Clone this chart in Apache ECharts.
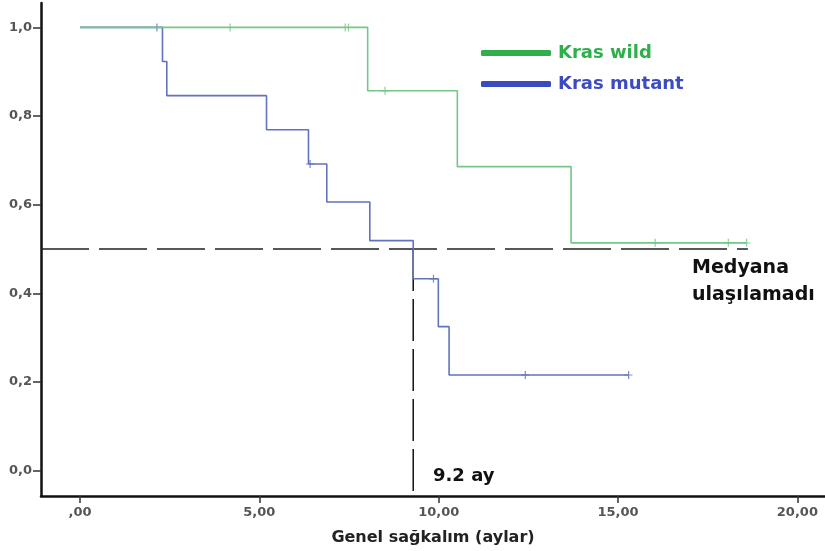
<!DOCTYPE html>
<html>
<head>
<meta charset="utf-8">
<script src="https://cdn.jsdelivr.net/npm/echarts@6/dist/echarts.min.js"></script>
<style>
html, body { margin: 0; padding: 0; background: #fff; }
#chart { width: 825px; height: 551px; }
</style>
</head>
<body>
<div id="chart"></div>
<script>
// Kaplan-Meier data (months, survival)
var wildTimes = [8.02, 10.52, 13.69];
var wildSurv = [0.857, 0.686, 0.514];
var wildCensor = [4.18, 7.39, 7.48, 8.50, 16.03, 18.07, 18.58];

var mutTimes = [2.30, 2.42, 5.20, 6.37, 6.88, 8.08, 9.29, 9.99, 10.29];
var mutSurv = [0.923, 0.846, 0.769, 0.692, 0.606, 0.519, 0.433, 0.325, 0.216];
var mutCensor = [2.14, 6.41, 9.85, 12.41, 15.29];

var medianSurv = 0.5;
var medianTime = 9.29;
var medianLineEnd = 18.62;

var xTicks = [0, 5, 10, 15, 20];
var xTickLabels = [',00', '5,00', '10,00', '15,00', '20,00'];
var yTicks = [0, 0.2, 0.4, 0.6, 0.8, 1.0];
var yTickLabels = ['0,0', '0,2', '0,4', '0,6', '0,8', '1,0'];

var xMin = -1.087, xMax = 20.77;
var yMin = -0.057, yMax = 1.055;

function survAt(times, surv, t) {
	var s = 1;
	for (var i = 0; i < times.length; i++) {
		if (times[i] <= t) s = surv[i];
	}
	return s;
}

function kmLine(times, surv, censor) {
	var end = Math.max.apply(null, censor.concat(times));
	var d = [[0, 1]];
	for (var i = 0; i < times.length; i++) {
		d.push([times[i], surv[i]]);
	}
	d.push([end, survAt(times, surv, end)]);
	return d;
}

function censorPoints(times, surv, censor) {
	return censor.map(function (t) {
		return [t, survAt(times, surv, t)];
	});
}

function tickLabel(ticks, labels) {
	return function (v) {
		for (var i = 0; i < ticks.length; i++) {
			if (Math.abs(ticks[i] - v) < 1e-6) return labels[i];
		}
		return '';
	};
}

var green = '#74c787', blue = '#6272bd';
var plusMark = 'path://M4,0h1.4v9h-1.4zM0,4h9v1.2h-9z';

var chart = echarts.init(document.getElementById('chart'));
chart.setOption({
	animation: false,
	grid: { left: 41, right: 0, top: 3, bottom: 55 },
	legend: {
		orient: 'vertical',
		left: 476,
		top: 39,
		itemGap: 13,
		itemWidth: 70,
		itemHeight: 6,
		icon: 'roundRect',
		selectedMode: false,
		textStyle: { fontWeight: 'bold', fontSize: 18, fontFamily: 'DejaVu Sans', padding: [0, 0, 0, 2] },
		data: [
			{ name: 'Kras wild', itemStyle: { color: '#2eaf4c' }, textStyle: { color: '#2eaf4c' } },
			{ name: 'Kras mutant', itemStyle: { color: '#3c4cc0' }, textStyle: { color: '#3c4cc0' } }
		]
	},
	xAxis: {
		type: 'value',
		min: xMin,
		max: xMax,
		name: 'Genel sağkalım (aylar)',
		nameLocation: 'middle',
		nameGap: 34,
		nameTextStyle: { fontWeight: 'bold', fontSize: 16, color: '#222', fontFamily: 'DejaVu Sans' },
		splitLine: { show: false },
		axisLine: { onZero: false, lineStyle: { color: '#111', width: 2.5 } },
		axisTick: { length: 7, customValues: xTicks, lineStyle: { color: '#333', width: 1.5 } },
		axisLabel: {
			customValues: xTicks, margin: 10, fontSize: 13, color: '#555', fontWeight: 'bold',
			fontFamily: 'DejaVu Sans', formatter: tickLabel(xTicks, xTickLabels)
		}
	},
	yAxis: {
		type: 'value',
		min: yMin,
		max: yMax,
		splitLine: { show: false },
		axisLine: { onZero: false, lineStyle: { color: '#111', width: 2.5 } },
		axisTick: { length: 8, customValues: yTicks, lineStyle: { color: '#333', width: 1.5 } },
		axisLabel: {
			customValues: yTicks, margin: 9, fontSize: 13, color: '#555', fontWeight: 'bold',
			fontFamily: 'DejaVu Sans', formatter: tickLabel(yTicks, yTickLabels)
		}
	},
	series: [
		{
			name: 'median-h', type: 'line', silent: true, symbol: 'none',
			lineStyle: { color: '#222', width: 1.5, type: [48, 10] },
			data: [[xMin, medianSurv], [medianLineEnd, medianSurv]]
		},
		{
			name: 'median-v', type: 'line', silent: true, symbol: 'none',
			lineStyle: { color: '#111', width: 1.5, type: [42, 8] },
			data: [[medianTime, medianSurv], [medianTime, yMin]]
		},
		{
			name: 'Kras mutant', type: 'line', step: 'end', symbol: 'none',
			lineStyle: { color: blue, width: 1.6 }, itemStyle: { color: blue },
			data: kmLine(mutTimes, mutSurv, mutCensor)
		},
		{
			name: 'mutant-censored', type: 'scatter', symbol: plusMark, symbolSize: [8, 8],
			itemStyle: { color: blue },
			data: censorPoints(mutTimes, mutSurv, mutCensor)
		},
		{
			name: 'Kras wild', type: 'line', step: 'end', symbol: 'none',
			lineStyle: { color: green, width: 1.6 }, itemStyle: { color: green },
			data: kmLine(wildTimes, wildSurv, wildCensor)
		},
		{
			name: 'wild-censored', type: 'scatter', symbol: plusMark, symbolSize: [8, 8],
			itemStyle: { color: green },
			data: censorPoints(wildTimes, wildSurv, wildCensor)
		}
	],
	graphic: [
		{ type: 'text', left: 692, top: 259, style: { text: 'Medyana', font: 'bold 19px "DejaVu Sans"', fill: '#111' } },
		{ type: 'text', left: 692, top: 286, style: { text: 'ulaşılamadı', font: 'bold 19px "DejaVu Sans"', fill: '#111' } },
		{ type: 'text', left: 433, top: 467, style: { text: '9.2 ay', font: 'bold 18px "DejaVu Sans"', fill: '#111' } }
	]
});
</script>
</body>
</html>
